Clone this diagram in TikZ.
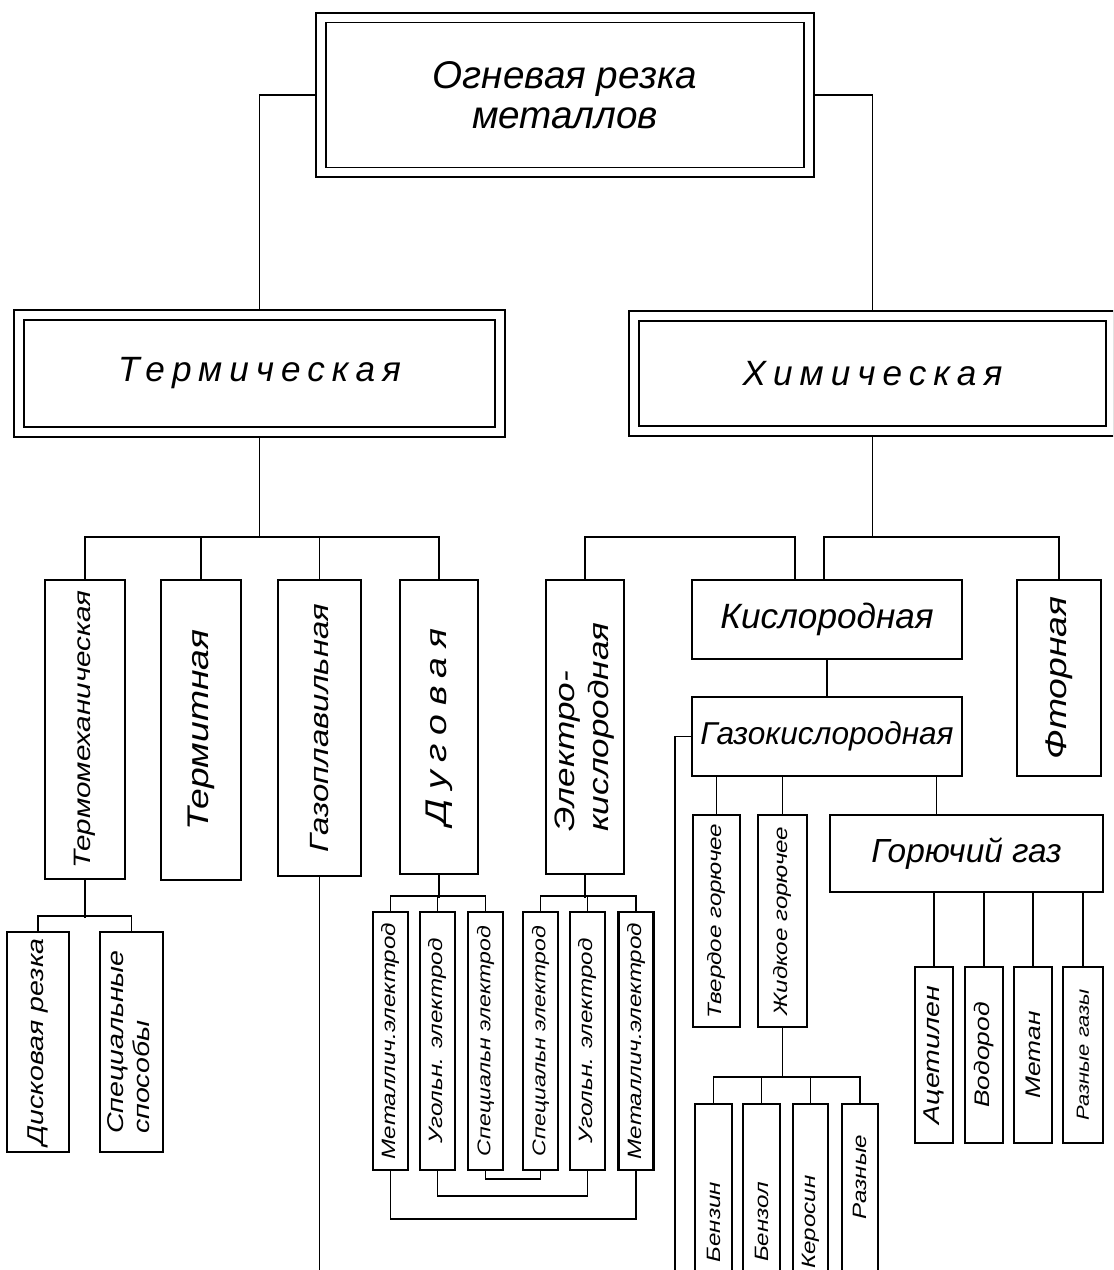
\documentclass[tikz,border=0pt]{standalone}
\usepackage{fontspec}
\setmainfont{Liberation Sans}
\newfontfamily\widefont[FakeStretch=1.25]{Liberation Sans}
\usepackage{graphicx}
\usetikzlibrary{calc,backgrounds}
\newcommand{\sz}[2]{\fontsize{#1}{#2}\selectfont}

\begin{document}
\begin{tikzpicture}[
  x=0.02cm, y=-0.02cm,
  frame/.style={draw, double, double distance=0.16cm, line width=0.9pt, fill=white,
    inner sep=0pt, align=center, font=\itshape},
  box/.style={draw, line width=1.3pt, fill=white, inner sep=0pt, align=center, font=\itshape},
  vbox/.style={box, font=\widefont\itshape},
  electrode/.style={vbox, minimum width=0.7cm, minimum height=5.16cm},
  gas/.style={vbox, minimum width=0.76cm, minimum height=3.52cm},
  fluid/.style={vbox, minimum width=0.74cm, minimum height=4.72cm},
  link/.style={line width=0.9pt}
]
\useasboundingbox (0,0) rectangle (1113,1270);
\clip (0,0) rectangle (1113,1270);

% top and the two main kinds
\node[frame, minimum width=9.76cm, minimum height=3.1cm, font=\itshape\sz{22}{23}] (cut) at (565,95)
  {Огневая резка\\металлов};
\node[frame, minimum width=9.62cm, minimum height=2.34cm] (therm) at (259.5,373.5)
  {\sz{20}{24}\addfontfeature{LetterSpace=20}Термическая};
\node[frame, minimum width=9.54cm, minimum height=2.3cm] (chem) at (872.5,373.5)
  {\sz{20}{24}\addfontfeature{LetterSpace=20}Химическая};

% thermal branch
\node[vbox, minimum width=1.6cm, minimum height=5.98cm] (tmech) at (85,729.5)
  {\rotatebox{90}{\sz{13.5}{16}Термомеханическая}};
\node[vbox, minimum width=1.6cm, minimum height=6cm] (termit) at (201,730)
  {\rotatebox{90}{\sz{17}{20}Термитная}};
\node[vbox, minimum width=1.66cm, minimum height=5.92cm] (gasmelt) at (319.5,728)
  {\rotatebox{90}{\sz{15}{18}Газоплавильная}};
\node[vbox, minimum width=1.56cm, minimum height=5.88cm] (arc) at (439,727)
  {\rotatebox{90}{\sz{17}{20}\addfontfeature{LetterSpace=30}Дуговая}};
\node[vbox, minimum width=1.56cm, minimum height=5.88cm] (eox) at (585,727)
  {\rotatebox{90}{\sz{16}{19}\begin{tabular}{@{}l@{}}Электро-\\кислородная\end{tabular}}};

\node[vbox, minimum width=1.24cm, minimum height=4.4cm] (disk) at (38,1042)
  {\rotatebox{90}{\sz{13}{15}Дисковая резка}};
\node[vbox, minimum width=1.26cm, minimum height=4.4cm] (special) at (131.5,1042)
  {\rotatebox{90}{\sz{13}{15}\begin{tabular}{@{}l@{}}Специальные\\способы\end{tabular}}};

\node[electrode] (metal1) at (390.5,1041) {\rotatebox{90}{\sz{11}{13}Металлич.электрод}};
\node[electrode] (coal1) at (437.5,1041) {\rotatebox{90}{\sz{11}{13}Угольн. электрод}};
\node[electrode] (spec1) at (485.5,1041) {\rotatebox{90}{\sz{10.5}{13}Специальн электрод}};
\node[electrode] (spec2) at (540.5,1041) {\rotatebox{90}{\sz{10.5}{13}Специальн электрод}};
\node[electrode] (coal2) at (587.5,1041) {\rotatebox{90}{\sz{11}{13}Угольн. электрод}};
\node[electrode] (metal2) at (636,1041) {\rotatebox{90}{\sz{11}{13}Металлич.электрод}};

% chemical branch
\node[box, minimum width=5.4cm, minimum height=1.58cm] (kisl) at (827,619.5)
  {\sz{20}{24}Кислородная};
\node[vbox, minimum width=1.68cm, minimum height=3.92cm] (ftor) at (1059,678)
  {\rotatebox{90}{\sz{17}{20}Фторная}};
\node[box, minimum width=5.4cm, minimum height=1.58cm] (gazo) at (827,736.5)
  {\sz{18}{22}Газокислородная};

\node[vbox, minimum width=0.94cm, minimum height=4.24cm] (solid) at (716.5,921)
  {\rotatebox{90}{\sz{11}{13}Твердое горючее}};
\node[vbox, minimum width=0.98cm, minimum height=4.24cm] (liquid) at (782.5,921)
  {\rotatebox{90}{\sz{11}{13}Жидкое горючее}};
\node[box, minimum width=5.46cm, minimum height=1.54cm] (fuelgas) at (966.5,853.5)
  {\sz{19}{22}Горючий газ};

\node[gas] (acet) at (934,1055) {\rotatebox{90}{\sz{13}{15}Ацетилен}};
\node[gas] (hydro) at (984,1055) {\rotatebox{90}{\sz{12}{14}Водород}};
\node[gas] (meth) at (1033,1055) {\rotatebox{90}{\sz{12}{14}Метан}};
\node[gas, minimum width=0.8cm] (mixgas) at (1083,1055) {\rotatebox{90}{\sz{10}{12}Разные газы}};

\node[fluid] (benzin) at (713.5,1222) {\rotatebox{90}{\sz{11}{13}Бензин}};
\node[fluid] (benzol) at (761.5,1222) {\rotatebox{90}{\sz{11}{13}Бензол}};
\node[fluid, minimum width=0.7cm] (kero) at (810.5,1222) {\rotatebox{90}{\sz{11}{13}Керосин}};
\node[fluid, minimum width=0.72cm] (mixliq) at (860,1222)
  {\rotatebox{90}{\sz{11}{13}\hspace*{1.8cm}Разные}};

% connectors
\coordinate (tbus) at (261,537);
\coordinate (cbus) at (880,537);
\coordinate (kl) at ($(kisl.north)+(-32,0)$);
\coordinate (kr) at ($(kisl.north)+(-3,0)$);
\coordinate (fg) at ($(fuelgas.north)+(-30,0)$);
\coordinate (lbus) at (783,1077);
\coordinate (gmend) at (321,1280);
\coordinate (gzend) at (675,1280);

\begin{scope}[on background layer]
\draw[link] (cut.west) -| (therm.north);
\draw[link] (cut.east) -| (chem.north);

\draw[link] (therm.south) -- (therm.south |- tbus);
\draw[link] (tmech.north) |- (tbus) -| (arc.north);
\foreach \n in {termit,gasmelt}
  \draw[link] (\n.north) -- (\n.north |- tbus);
\draw[link] (gasmelt.south) -- (gasmelt.south |- gmend);

\draw[link] (tmech.south) -- ++(0,38);
\draw[link] (disk.north) -- ++(0,-15) -| (special.north);

\draw[link] (arc.south) -- ++(0,23);
\draw[link] (metal1.north) -- ++(0,-15) -| (spec1.north);
\draw[link] (coal1.north) -- ++(0,-15);
\draw[link] (eox.south) -- ++(0,23);
\draw[link] (spec2.north) -- ++(0,-15) -| (metal2.north);
\draw[link] (coal2.north) -- ++(0,-15);
\draw[link] (spec1.south) -- ++(0,8) -| (spec2.south);
\draw[link] (coal1.south) -- ++(0,25) -| (coal2.south);
\draw[link] (metal1.south) -- ++(0,48) -| (metal2.south);

\draw[link] (chem.south) -- (chem.south |- cbus);
\draw[link] (eox.north) |- (kl |- cbus) -- (kl);
\draw[link] (kr) |- (cbus) -| (ftor.north);
\draw[link] (kisl.south) -- (gazo.north);
\draw[link] (gazo.west) -| (gzend);

\draw[link] (solid.north) -- (solid.north |- gazo.south);
\draw[link] (liquid.north) -- (liquid.north |- gazo.south);
\draw[link] (fg) -- (fg |- gazo.south);
\foreach \n in {acet,hydro,meth,mixgas}
  \draw[link] (\n.north) -- (\n.north |- fuelgas.south);

\draw[link] (liquid.south) -- (liquid.south |- lbus);
\draw[link] (benzin.north) |- (lbus) -| (mixliq.north);
\foreach \n in {benzol,kero}
  \draw[link] (\n.north) -- (\n.north |- lbus);
\end{scope}
\end{tikzpicture}
\end{document}
